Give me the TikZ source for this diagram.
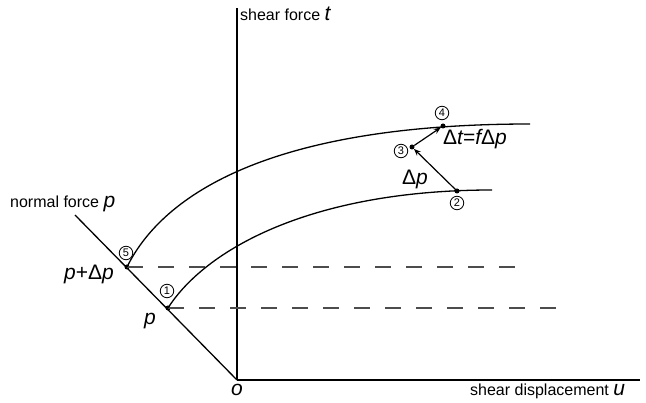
\documentclass[tikz,border=0pt]{standalone}
\usepackage{fontspec}
\setmainfont{Liberation Sans}
\usetikzlibrary{arrows.meta}
\begin{document}
\begin{tikzpicture}[x=1pt,y=-1pt,
  axis/.style={line width=1.3pt},
  curve/.style={line width=1.3pt},
  dashline/.style={line width=1.8pt, draw=black!70, dash pattern=on 16pt off 15pt},
  dot/.style={circle, fill=black, inner sep=0pt, minimum size=5pt},
  num/.style={circle, draw, line width=0.8pt, inner sep=0pt, minimum size=13.5pt, font=\fontsize{11}{11}\selectfont},
  lbl/.style={font=\fontsize{16}{19}\selectfont, inner sep=0pt},
  mlbl/.style={font=\fontsize{21}{24}\selectfont\itshape, inner sep=0pt},
  arr/.style={line width=1.2pt, -{Stealth[length=7pt,width=5.5pt]}}
]
\useasboundingbox (0,0) rectangle (646,403);
% axes
\coordinate (O) at (237,380);
\coordinate (tTop) at (237,8);
\coordinate (uEnd) at (640,380);
\coordinate (pTop) at (75,215);
\draw[axis] (O) -- (tTop);
\draw[axis] (O) -- (uEnd);
\draw[axis] (O) -- (pTop);
% points
\node[dot] (p5) at (127,267) {};
\node[dot] (p1) at (168,308) {};
\node[dot] (p2) at (457,191) {};
\node[dot] (p3) at (412,147) {};
\node[dot] (p4) at (443,126) {};
\coordinate (d5) at (515,267);
\coordinate (d1) at (558,308);
\coordinate (uEndC) at (530,124);
\coordinate (lEndC) at (492,190);
% dashed lines
\draw[dashline] (p5.center) -- (d5);
\draw[dashline] (p1.center) -- (d1);
% curves
\draw[curve] (p5.center) .. controls (160,200) and (260,124) .. (uEndC);
\draw[curve] (p1.center) .. controls (205,250) and (310,190) .. (lEndC);
% arrows
\draw[arr] (p2.center) -- (p3);
\draw[arr] (p3) -- (p4);
% circled numbers
\node[num] (c1) at (167,291) {1};
\node[num] (c2) at (457,203) {2};
\node[num] (c3) at (401,151) {3};
\node[num] (c4) at (442,113) {4};
\node[num] (c5) at (126,253) {5};
% labels
\node[lbl, anchor=base west] (lt) at (240,21) {shear force \textit{\fontsize{21}{24}\selectfont t}};
\node[lbl, anchor=base west] (lp) at (10,208) {normal force \textit{\fontsize{21}{24}\selectfont p}};
\node[lbl, anchor=base west] (lu) at (470,396) {shear displacement \textit{\fontsize{21}{24}\selectfont u}};
\node[mlbl, anchor=base] (lo) at (237,396) {o};
\node[mlbl, anchor=base east] (lpdp) at (114,280) {p\upshape+Δ\itshape p};
\node[mlbl, anchor=base west] (lp1) at (144,325) {p};
\node[mlbl, anchor=base west] (ldp) at (402,185) {\upshape Δ\itshape p};
\node[mlbl, anchor=base west] (ldt) at (443,145) {\upshape Δ\itshape t\upshape =\itshape f\upshape Δ\itshape p};
\end{tikzpicture}
\end{document}
